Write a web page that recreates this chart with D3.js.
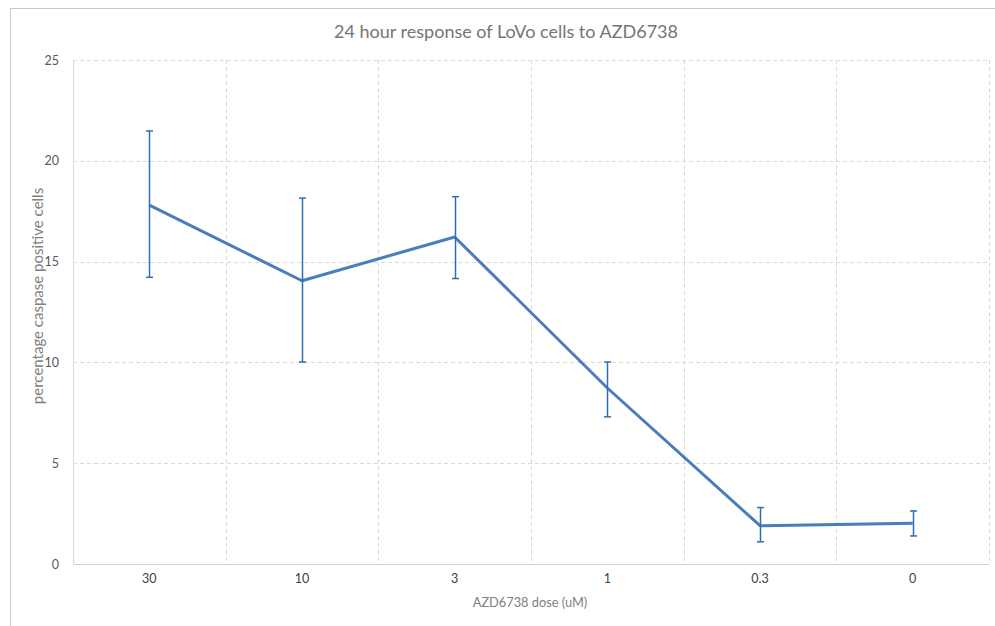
<!DOCTYPE html>
<html><head><meta charset="utf-8">
<script src="https://cdn.jsdelivr.net/npm/d3@7"></script>
<style>body{margin:0;background:#fff}svg{display:block}text{font-family:Lato,"Open Sans",sans-serif}</style>
</head><body>
<script>
const doses = ["30","10","3","1","0.3","0"];
const meanValues = [17.8, 14.05, 16.22, 8.73, 1.9, 2.02];
const errLow = [14.22, 10.02, 14.16, 7.3, 1.1, 1.39];
const errHigh = [21.48, 18.15, 18.22, 10.02, 2.8, 2.63];
const yTicks = [0,5,10,15,20,25];
const title = "24 hour response of LoVo cells to AZD6738";
const xTitle = "AZD6738 dose (uM)";
const yTitle = "percentage caspase positive cells";

const W = 995, H = 626;
const m = {left:73, right:6, top:60, bottom:62};
const svg = d3.select("body").append("svg").attr("width",W).attr("height",H);
svg.append("rect").attr("x",10.5).attr("y",8.5).attr("width",W).attr("height",H).attr("fill","#fff").attr("stroke","#c8c8c8");

const x = d3.scaleBand().domain(doses).range([m.left, W-m.right]).padding(0);
const y = d3.scaleLinear().domain([0,25]).range([H-m.bottom, m.top]);
const grid = "#d9d9d9";

svg.append("g").selectAll("line").data(yTicks.filter(d=>d>0)).join("line")
  .attr("x1",m.left).attr("x2",W-m.right).attr("y1",d=>Math.round(y(d))+0.5).attr("y2",d=>Math.round(y(d))+0.5)
  .attr("stroke",grid).attr("stroke-dasharray","4,3");
const edges = doses.slice(1).map(d=>x(d)).concat([x(doses[doses.length-1])+x.bandwidth()]);
svg.append("g").selectAll("line").data(edges).join("line")
  .attr("x1",d=>Math.round(d)+0.5).attr("x2",d=>Math.round(d)+0.5).attr("y1",y(25)).attr("y2",y(0))
  .attr("stroke",grid).attr("stroke-dasharray","4,3");
svg.append("line").attr("x1",m.left+0.5).attr("x2",m.left+0.5).attr("y1",y(25)).attr("y2",y(0)).attr("stroke",grid);

const yAxis = svg.append("g").attr("transform",`translate(${m.left},0)`)
  .call(d3.axisLeft(y).tickValues(yTicks).tickSize(0).tickPadding(14));
yAxis.select(".domain").remove();
yAxis.selectAll("text").attr("fill","#595959").attr("font-size","12.5px");

const xAxis = svg.append("g").attr("transform",`translate(0,${y(0)})`)
  .call(d3.axisBottom(x).tickSize(0).tickPadding(10));
xAxis.select(".domain").attr("stroke","#d0d0d0").attr("stroke-width",1.2);
xAxis.selectAll("text").attr("fill","#404040").attr("font-size","12.5px");

const cx = d => x(d)+x.bandwidth()/2;
svg.append("path").datum(doses.map((d,i)=>[cx(d), y(meanValues[i])]))
  .attr("d", d3.line()).attr("fill","none").attr("stroke","#4a7ebb").attr("stroke-width",3).attr("stroke-linejoin","round");

const eb = svg.append("g").attr("stroke","#2e6fad").attr("stroke-width",1.5);
doses.forEach((d,i)=>{
  const px = Math.round(cx(d))+0.5;
  eb.append("line").attr("x1",px).attr("x2",px).attr("y1",y(errLow[i])).attr("y2",y(errHigh[i]));
  [errLow[i], errHigh[i]].forEach(v=>{
    eb.append("line").attr("x1",px-3.5).attr("x2",px+3.5).attr("y1",y(v)).attr("y2",y(v));
  });
});

svg.append("text").attr("x",506).attr("y",38).attr("text-anchor","middle")
  .attr("fill","#757575").attr("font-size","18px").text(title);
svg.append("text").attr("x",530).attr("y",607).attr("text-anchor","middle")
  .attr("fill","#808080").attr("font-size","12.8px").text(xTitle);
svg.append("text").attr("transform",`translate(43,296) rotate(-90)`).attr("text-anchor","middle")
  .attr("fill","#808080").attr("font-size","15px").text(yTitle);
</script>
</body></html>
